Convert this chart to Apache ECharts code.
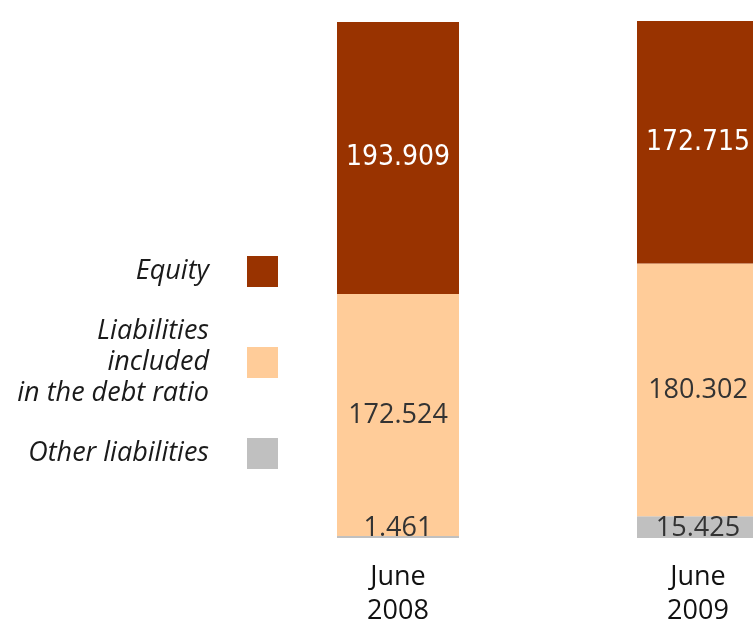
<!DOCTYPE html>
<html>
<head>
<meta charset="utf-8">
<style>
  html, body { margin: 0; padding: 0; background: #fff; }
  #chart { width: 753px; height: 630px; }
</style>
<script src="https://cdn.jsdelivr.net/npm/echarts@6/dist/echarts.min.js"></script>
</head>
<body>
<div id="chart"></div>
<script>
var categories = ['June\n2008', 'June\n2009'];
var otherLiabilities = [1.461, 15.425];
var debtLiabilities = [172.524, 180.302];
var equity = [193.909, 172.715];

var chart = echarts.init(document.getElementById('chart'));

var darkLabel = {
    show: true,
    position: 'inside',
    color: '#333333',
    fontFamily: 'Open Sans',
    fontSize: 27
};

var option = {
    animation: false,
    grid: {
        left: 248,
        right: -95,
        top: 0,
        bottom: 92,
        outerBoundsMode: 'none',
        containLabel: false
    },
    legend: {
        orient: 'vertical',
        align: 'right',
        right: 470,
        top: 251,
        itemWidth: 31,
        itemHeight: 31,
        itemGap: 29,
        icon: 'rect',
        selectedMode: false,
        data: ['Equity', 'Liabilities\nincluded\nin the debt ratio', 'Other liabilities'],
        textStyle: {
            color: '#1a1a1a',
            fontFamily: 'Open Sans',
            fontStyle: 'italic',
            fontSize: 27,
            lineHeight: 31,
            padding: [0, 33, 0, 0]
        }
    },
    xAxis: {
        type: 'category',
        data: categories,
        axisLine: { show: false },
        axisTick: { show: false },
        axisLabel: {
            color: '#111111',
            fontFamily: 'Open Sans',
            fontSize: 27,
            lineHeight: 34,
            margin: 22
        }
    },
    yAxis: {
        type: 'value',
        min: 0,
        max: 383.5,
        show: false,
        splitLine: { show: false }
    },
    series: [
        {
            name: 'Other liabilities',
            type: 'bar',
            stack: 'total',
            barWidth: 122,
            itemStyle: { color: '#C0C0C0' },
            label: Object.assign({}, darkLabel, { position: 'insideBottom', distance: -4 }),
            data: otherLiabilities
        },
        {
            name: 'Liabilities\nincluded\nin the debt ratio',
            type: 'bar',
            stack: 'total',
            barWidth: 122,
            itemStyle: { color: '#FFCC99' },
            label: darkLabel,
            data: debtLiabilities
        },
        {
            name: 'Equity',
            type: 'bar',
            stack: 'total',
            barWidth: 122,
            itemStyle: { color: '#993300' },
            label: {
                show: true,
                position: 'inside',
                color: '#ffffff',
                fontFamily: 'DejaVu Sans Condensed',
                fontSize: 28
            },
            data: equity
        }
    ]
};

chart.setOption(option);
window.onresize = chart.resize;
</script>
</body>
</html>
